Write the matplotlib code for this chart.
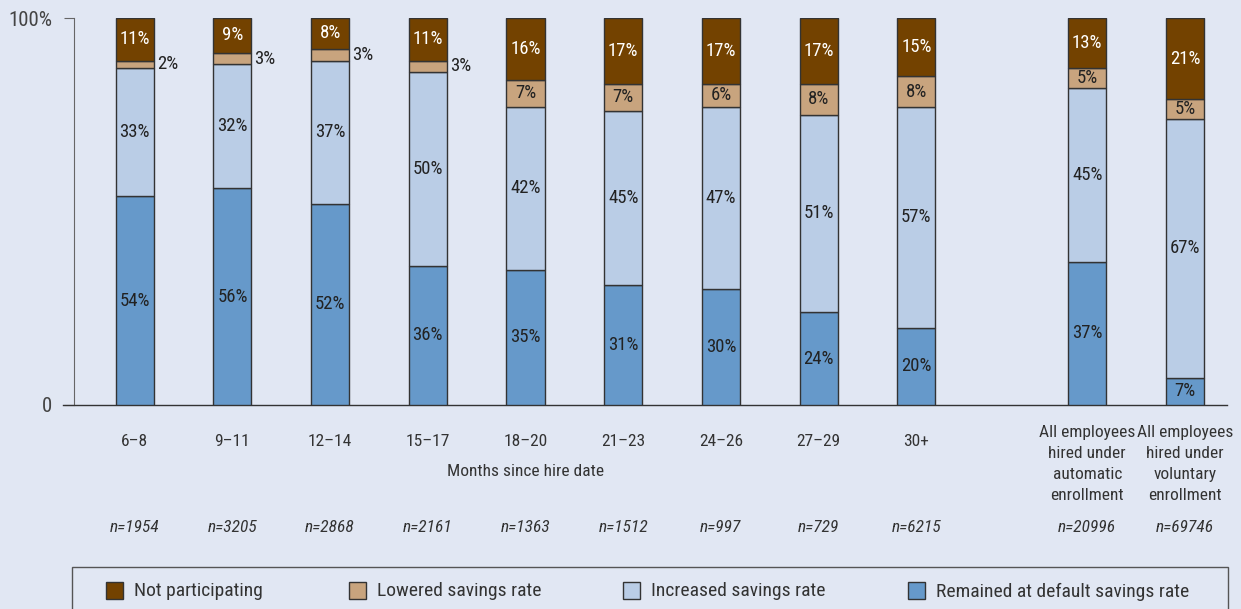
import matplotlib
matplotlib.use("Agg")
import matplotlib.pyplot as plt
import matplotlib.transforms as mtransforms
from matplotlib.patches import Rectangle
import numpy as np

plt.rcParams['font.family'] = ['Roboto Condensed', 'Liberation Sans Narrow', 'DejaVu Sans']
plt.rcParams['font.stretch'] = 'condensed'

# Data
categories = ['6\u20138', '9\u201311', '12\u201314', '15\u201317', '18\u201320', '21\u201323',
              '24\u201326', '27\u201329', '30+',
              'All employees\nhired under\nautomatic\nenrollment',
              'All employees\nhired under\nvoluntary\nenrollment']
n_labels = ['n=1954', 'n=3205', 'n=2868', 'n=2161', 'n=1363', 'n=1512',
            'n=997', 'n=729', 'n=6215', 'n=20996', 'n=69746']
remained = [54, 56, 52, 36, 35, 31, 30, 24, 20, 37, 7]
increased = [33, 32, 37, 50, 42, 45, 47, 51, 57, 45, 67]
lowered = [2, 3, 3, 3, 7, 7, 6, 8, 8, 5, 5]
not_part = [11, 9, 8, 11, 16, 17, 17, 17, 15, 13, 21]

series_names = ['Not participating', 'Lowered savings rate',
                'Increased savings rate', 'Remained at default savings rate']
colors = {'Not participating': '#734200', 'Lowered savings rate': '#C8A47E',
          'Increased savings rate': '#BACDE6', 'Remained at default savings rate': '#6699CA'}

bg = '#E1E7F3'
txt = '#333333'

# bar positions: gap before the two summary bars
x = np.array([0, 1, 2, 3, 4, 5, 6, 7, 8, 9.75, 10.75])
width = 0.39

fig = plt.figure(figsize=(12.41, 6.09), dpi=100)
fig.patch.set_facecolor(bg)
ax = fig.add_axes([63 / 1241, 1 - 405 / 609, (1227 - 63) / 1241, 387 / 609])
ax.set_facecolor(bg)

stack = [('Remained at default savings rate', remained),
         ('Increased savings rate', increased),
         ('Lowered savings rate', lowered),
         ('Not participating', not_part)]

bottom = np.zeros(len(x))
for name, vals in stack:
    vals = np.array(vals, dtype=float)
    ax.bar(x, vals, width, bottom=bottom, color=colors[name],
           edgecolor='#333333', linewidth=1.0, zorder=3)
    for i in range(len(x)):
        yc = bottom[i] + vals[i] / 2
        lab = '%d%%' % vals[i]
        if name == 'Lowered savings rate' and vals[i] < 4:
            ax.text(x[i] + width / 2 + 0.03, yc, lab, ha='left', va='center',
                    fontsize=13.5, color='#222222', zorder=4)
        else:
            c = 'white' if name == 'Not participating' else '#222222'
            ax.text(x[i], yc, lab, ha='center', va='center',
                    fontsize=13.5, color=c, zorder=4)
    bottom += vals

ax.set_xlim(-0.734, 11.18)
ax.set_ylim(0, 100)

for s in ['top', 'right']:
    ax.spines[s].set_visible(False)
ax.spines['left'].set_position(('data', -0.62))
ax.spines['left'].set_bounds(0, 100)
ax.spines['left'].set_color('#666666')
ax.spines['bottom'].set_color('#333333')
ax.spines['bottom'].set_linewidth(1.0)

ax.set_yticks([0, 100], ['0', '100%'])
ax.tick_params(axis='y', length=7, color='#666666', labelsize=15, labelcolor='#444444', pad=9)
ax.set_xticks(x, categories)
ax.tick_params(axis='x', length=0, labelsize=12.5, labelcolor=txt, pad=21)
for t in ax.get_xticklabels():
    t.set_multialignment('center')
    t.set_linespacing(1.5)
    if '\n' in t.get_text():
        t.set_y(9 / 387)

trans = mtransforms.blended_transform_factory(ax.transData, fig.transFigure)
ax.text(4, 1 - 472 / 609, 'Months since hire date', transform=trans,
        ha='center', va='center', fontsize=12.5, color=txt)
for xi, n in zip(x, n_labels):
    ax.text(xi, 1 - 528 / 609, n, transform=trans, ha='center', va='center',
            fontsize=12.5, color=txt, style='italic')

# legend box (runs off the bottom edge)
fig.patches.append(Rectangle((72 / 1241, -0.05), (1228 - 72) / 1241, 0.05 + 42 / 609,
                             transform=fig.transFigure, facecolor='none',
                             edgecolor='#555555', linewidth=1.0))
leg_x = [106, 349, 623, 908]
ly = 1 - 590 / 609
for lx, name in zip(leg_x, series_names):
    fig.patches.append(Rectangle((lx / 1241, ly - 8.5 / 609), 17 / 1241, 17 / 609,
                                 transform=fig.transFigure, facecolor=colors[name],
                                 edgecolor='#333333', linewidth=1.0))
    fig.text((lx + 28) / 1241, ly - 1.5 / 609, name, ha='left', va='center',
             fontsize=14, color=txt)

fig.savefig('out.png', dpi=100, facecolor=bg)
